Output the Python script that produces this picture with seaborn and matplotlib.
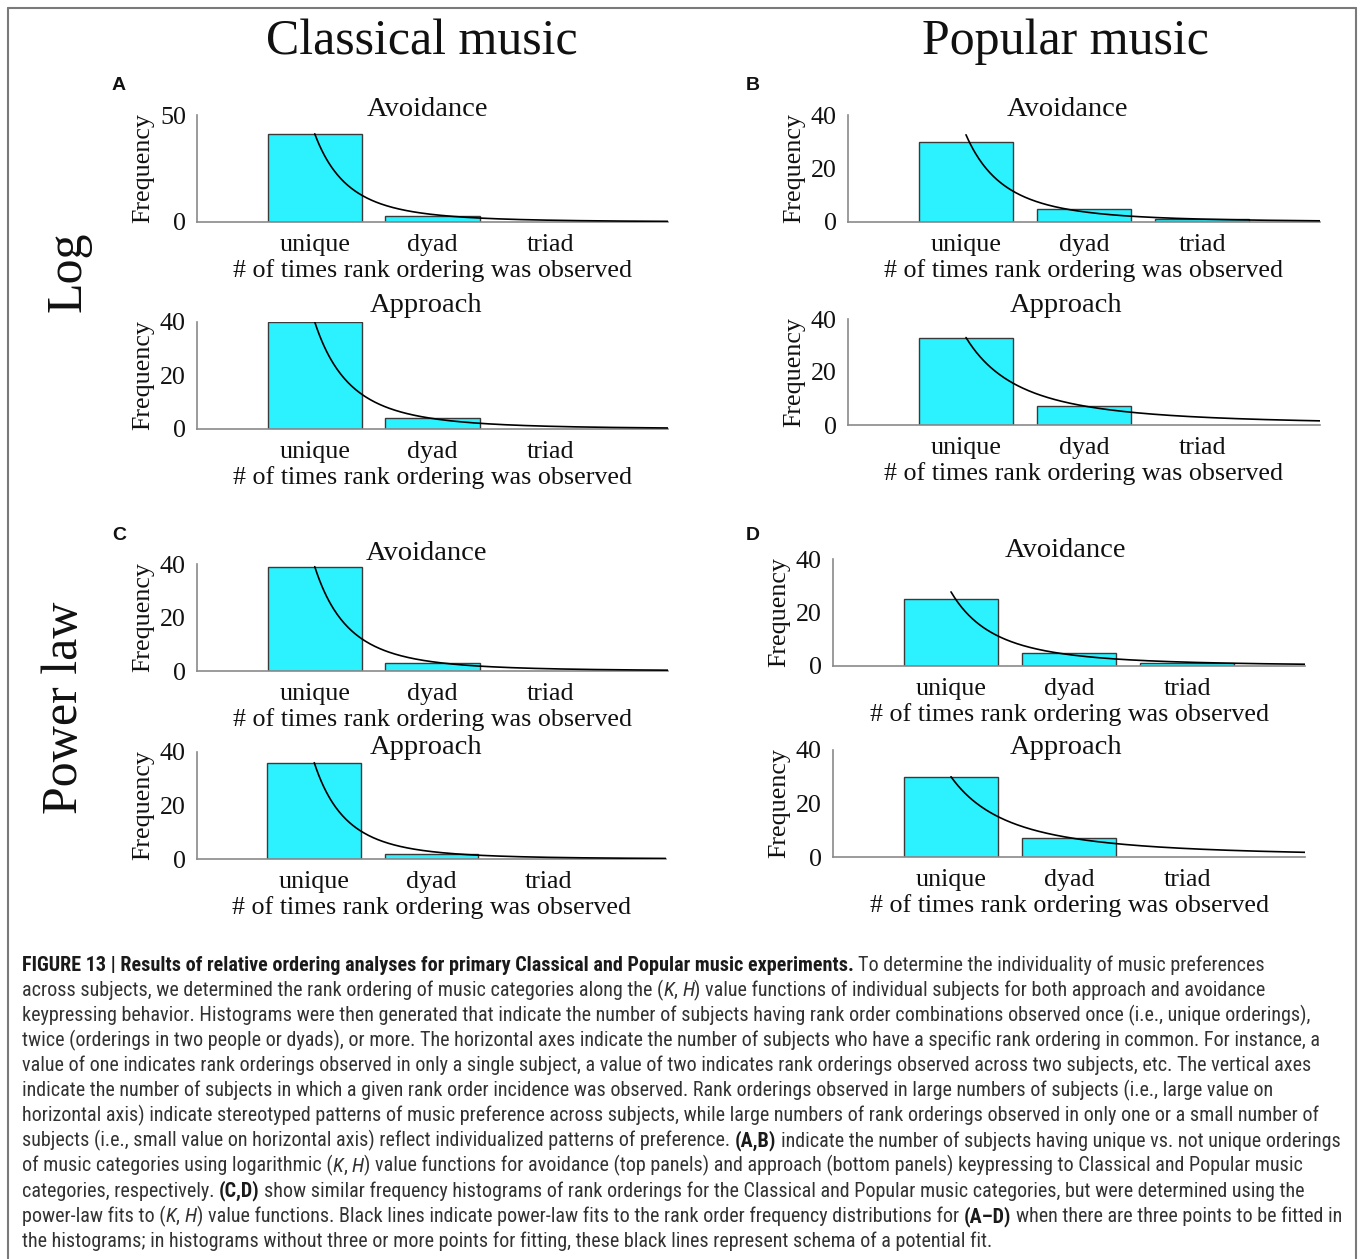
import numpy as np
import matplotlib
matplotlib.use("Agg")
import matplotlib.pyplot as plt
from matplotlib import font_manager
from matplotlib.lines import Line2D
import seaborn as sns

# ---- data -------------------------------------------------------------
categories = ["unique", "dyad", "triad"]
multiplicity = [1, 2, 3]

log_classical_avoid = [41, 3, 0]
log_classical_approach = [40, 4, 0]
log_popular_avoid = [30, 5, 1]
log_popular_approach = [33, 7, 0]
pow_classical_avoid = [39, 3, 0]
pow_classical_approach = [36, 2, 0]
pow_popular_avoid = [25, 5, 1]
pow_popular_approach = [30, 7, 0]

# power-law fit y = a * x^(-b): (a, b)
fit_log_classical_avoid = (41.2, 3.55)
fit_log_classical_approach = (40.0, 3.35)
fit_log_popular_avoid = (32.6, 3.1)
fit_log_popular_approach = (33.0, 2.2)
fit_pow_classical_avoid = (39.0, 3.5)
fit_pow_classical_approach = (36.0, 3.7)
fit_pow_popular_avoid = (27.7, 2.7)
fit_pow_popular_approach = (30.0, 2.05)

# ---- style ------------------------------------------------------------
sns.set_style("white")
SERIF = ["Liberation Serif", "DejaVu Serif"]
plt.rcParams["font.family"] = SERIF
BAR = "#2cf2ff"
EDGE = "#3a3a3a"
AXC = "#8a8a8a"

W, H = 1360, 1259
fig = plt.figure(figsize=(W / 100, H / 100), dpi=100)
fig.patch.set_facecolor("white")


def px_axes(left, right, top, bottom):
    return fig.add_axes([left / W, 1 - bottom / H, (right - left) / W, (bottom - top) / H])


def fx(x):
    return x / W


def fy(y):
    return 1 - y / H


panels = [
    # left, right, top, bottom, counts, fit, ymax, title, title centre
    (197, 668, 115, 222, log_classical_avoid, fit_log_classical_avoid, 50, "Avoidance", (427, 109)),
    (197, 668, 322, 429, log_classical_approach, fit_log_classical_approach, 40, "Approach", (426, 306)),
    (848, 1320, 115, 222, log_popular_avoid, fit_log_popular_avoid, 40, "Avoidance", (1067, 109)),
    (848, 1320, 319, 425, log_popular_approach, fit_log_popular_approach, 40, "Approach", (1066, 306)),
    (197, 668, 564, 671, pow_classical_avoid, fit_pow_classical_avoid, 40, "Avoidance", (426, 554)),
    (197, 666, 752, 859, pow_classical_approach, fit_pow_classical_approach, 40, "Approach", (426, 747)),
    (833, 1305, 559, 666, pow_popular_avoid, fit_pow_popular_avoid, 40, "Avoidance", (1065, 551)),
    (833, 1305, 750, 857, pow_popular_approach, fit_pow_popular_approach, 40, "Approach", (1066, 747)),
]

TICK_FS = 18.7
for left, right, top, bottom, counts, fit, ymax, title, tc in panels:
    ax = px_axes(left, right, top, bottom)
    sns.barplot(x=multiplicity, y=counts, native_scale=True, color=BAR, saturation=1,
                edgecolor=EDGE, linewidth=1.0, width=0.8, ax=ax, zorder=2)
    for p in ax.patches:
        if p.get_height() == 0:
            p.set_linewidth(0)
    a, b = fit
    xs = np.linspace(1, 4, 300)
    sns.lineplot(x=xs, y=a * xs ** (-b), color="black", linewidth=1.2, ax=ax, zorder=3)
    ax.set_xlim(0, 4)
    ax.set_ylim(0, ymax)
    ax.set_xticks(multiplicity)
    ax.set_xticklabels(categories)
    ax.set_yticks([0, ymax] if ymax == 50 else [0, 20, 40])
    sns.despine(ax=ax)
    for s in ("left", "bottom"):
        ax.spines[s].set_color(AXC)
        ax.spines[s].set_linewidth(1.2)
    ax.tick_params(axis="x", direction="out", length=5, width=1, color=AXC,
                   labelsize=TICK_FS, pad=3.5, labelcolor="#111111")
    ax.tick_params(axis="y", direction="in", length=4, width=1, color=AXC,
                   labelsize=TICK_FS, pad=8, labelcolor="#111111")
    ax.set_xlabel("# of times rank ordering was observed", fontsize=TICK_FS, labelpad=2.5, color="#111111")
    ax.set_ylabel("Frequency", fontsize=TICK_FS, labelpad=4, color="#111111")
    ax.set_facecolor("none")
    ax.grid(False)
    fig.text(fx(tc[0]), fy(tc[1]), title, fontsize=20.5, ha="center", va="center", color="#111111")

# column and row headings
fig.text(fx(422), fy(42), "Classical music", fontsize=36, ha="center", va="center", color="#111111")
fig.text(fx(1065), fy(42), "Popular music", fontsize=36, ha="center", va="center", color="#111111")
fig.text(fx(68), fy(272), "Log", fontsize=36, rotation=90, ha="center", va="center", color="#111111")
fig.text(fx(65), fy(708), "Power law", fontsize=36, rotation=90, ha="center", va="center", color="#111111")

# panel letters
for lab, (x, y) in {"A": (119, 85), "B": (753, 85), "C": (119, 535), "D": (753, 535)}.items():
    fig.text(fx(x), fy(y), lab, fontsize=14, fontweight="bold", ha="center", va="center",
             family=["Liberation Sans", "DejaVu Sans"], color="#111111")

# frame
fr = dict(color="#7a7a7a", linewidth=1.5, transform=fig.transFigure)
fig.add_artist(Line2D([fx(8), fx(8)], [fy(8), 0], **fr))
fig.add_artist(Line2D([fx(8), fx(1356)], [fy(8), fy(8)], **fr))
fig.add_artist(Line2D([fx(1356), fx(1356)], [fy(8), 0], **fr))

# ---- caption ----------------------------------------------------------
available = {f.name for f in font_manager.fontManager.ttflist}
cap_family = "Liberation Sans"
for cand in ["Liberation Sans Narrow", "Roboto Condensed", "DejaVu Sans Condensed", "Liberation Sans"]:
    if cand in available:
        cap_family = cand
        break

R, B, I = "normal", "bold", "italic"
caption = [
    [("FIGURE 13 | Results of relative ordering analyses for primary Classical and Popular music experiments.", B),
     (" To determine the individuality of music preferences", R)],
    [("across subjects, we determined the rank ordering of music categories along the (", R), ("K", I), (", ", R),
     ("H", I), (") value functions of individual subjects for both approach and avoidance", R)],
    [("keypressing behavior. Histograms were then generated that indicate the number of subjects having rank order combinations observed once (i.e., unique orderings),", R)],
    [("twice (orderings in two people or dyads), or more. The horizontal axes indicate the number of subjects who have a specific rank ordering in common. For instance, a", R)],
    [("value of one indicates rank orderings observed in only a single subject, a value of two indicates rank orderings observed across two subjects, etc. The vertical axes", R)],
    [("indicate the number of subjects in which a given rank order incidence was observed. Rank orderings observed in large numbers of subjects (i.e., large value on", R)],
    [("horizontal axis) indicate stereotyped patterns of music preference across subjects, while large numbers of rank orderings observed in only one or a small number of", R)],
    [("subjects (i.e., small value on horizontal axis) reflect individualized patterns of preference. ", R), ("(A,B)", B),
     (" indicate the number of subjects having unique vs. not unique orderings", R)],
    [("of music categories using logarithmic (", R), ("K", I), (", ", R), ("H", I),
     (") value functions for avoidance (top panels) and approach (bottom panels) keypressing to Classical and Popular music", R)],
    [("categories, respectively. ", R), ("(C,D)", B),
     (" show similar frequency histograms of rank orderings for the Classical and Popular music categories, but were determined using the", R)],
    [("power-law fits to (", R), ("K", I), (", ", R), ("H", I),
     (") value functions. Black lines indicate power-law fits to the rank order frequency distributions for ", R),
     ("(A\u2013D)", B), (" when there are three points to be fitted in", R)],
    [("the histograms; in histograms without three or more points for fitting, these black lines represent schema of a potential fit.", R)],
]

renderer = fig.canvas.get_renderer()


def style_kw(st, size):
    kw = dict(fontsize=size, family=[cap_family, "DejaVu Sans"], color="#333333")
    if st == B:
        kw["fontweight"] = "bold"
        kw["color"] = "#1a1a1a"
    if st == I:
        kw["fontstyle"] = "italic"
    return kw


def width_px(txt, kw):
    t = fig.text(0, 0, txt, **kw)
    w = t.get_window_extent(renderer).width
    t.remove()
    return w


def space_px(kw):
    return width_px("a a", kw) - width_px("aa", kw)


def line_width(line, size):
    total = 0.0
    for txt, st in line:
        kw = style_kw(st, size)
        core = txt.strip(" ")
        lead = len(txt) - len(txt.lstrip(" "))
        trail = len(txt) - len(txt.rstrip(" "))
        total += (lead + trail) * space_px(kw) + (width_px(core, kw) if core else 0)
    return total


# size the caption so the full-width regular lines span the text block
base = 13.0
cap_size = base * 1286.0 / line_width(caption[2], base)

x0, y0, dy = 22, 971, 25.1
for i, line in enumerate(caption):
    x = x0
    y = y0 + i * dy
    for txt, st in line:
        kw = style_kw(st, cap_size)
        core = txt.strip(" ")
        lead = len(txt) - len(txt.lstrip(" "))
        trail = len(txt) - len(txt.rstrip(" "))
        sp = space_px(kw)
        x += lead * sp
        if core:
            t = fig.text(fx(x), fy(y), core, ha="left", va="baseline", **kw)
            x += t.get_window_extent(renderer).width
        x += trail * sp

fig.savefig("out.png", dpi=100, facecolor="white")
